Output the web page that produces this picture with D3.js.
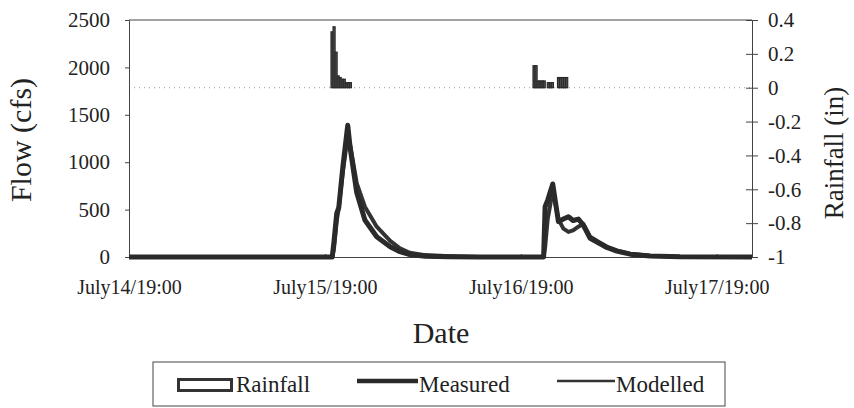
<!DOCTYPE html>
<html>
<head>
<meta charset="utf-8">
<script src="https://cdn.jsdelivr.net/npm/d3@7.9.0/dist/d3.min.js"></script>
<style>
  body { margin: 0; background: #fff; }
  svg text { font-family: 'Liberation Serif', 'Times New Roman', 'DejaVu Serif', serif !important; fill: #222; }
  .axis path, .axis line { stroke: #444; }
  .axis text { font-size: 21px; }
</style>
</head>
<body>
<svg id="chart"></svg>
<script>
// chart.js

// hours since July 14 19:00
const flowHours = [0, 24.9, 25.1, 25.45, 25.7, 26.2, 26.8, 27.1, 27.9, 28.9, 30.35, 32.0, 33.2, 34.4, 36.3, 39.3, 43.0,
  50.8, 50.98, 51.3, 51.92, 52.61, 53.22, 53.84, 54.41, 55.06, 55.64, 56.5, 57.72, 58.54, 59.77, 61.4, 63.85, 67.5, 76.33];

const measured = [0, 0, 150, 460, 520, 950, 1390, 1150, 680, 390, 214, 109, 56, 25, 8, 3, 0,
  0, 530, 600, 770, 373, 400, 425, 385, 400, 340, 197, 140, 100, 62, 30, 10, 2, 0];

const modelled = [0, 0, 80, 380, 520, 900, 1280, 1180, 780, 530, 320, 170, 92, 45, 20, 8, 0,
  0, 100, 400, 700, 400, 300, 265, 280, 320, 350, 215, 150, 110, 70, 35, 12, 3, 0];

// rainfall, 15 minute totals
const rainHours = [24.75, 25.0, 25.25, 25.5, 25.75, 26.0, 26.25, 26.5, 26.75, 27.0,
  49.5, 49.75, 50.0, 50.25, 50.5, 50.75, 51.25, 51.5, 51.75, 52.5, 52.75, 53.0, 53.25, 53.5];
const rainfall = [0.33, 0.36, 0.21, 0.07, 0.06, 0.05, 0.05, 0.03, 0.03, 0.03,
  0.13, 0.13, 0.04, 0.04, 0.04, 0.04, 0.03, 0.03, 0.03, 0.06, 0.06, 0.06, 0.06, 0.06];

const xTickHours = [0, 24, 48, 72];
const xTickLabels = ['July14/19:00', 'July15/19:00', 'July16/19:00', 'July17/19:00'];
const flowTicks = [0, 500, 1000, 1500, 2000, 2500];
const rainTicks = [-1, -0.8, -0.6, -0.4, -0.2, 0, 0.2, 0.4];
const rainTickLabels = ['-1', '-0.8', '-0.6', '-0.4', '-0.2', '0', '0.2', '0.4'];

const width = 854;
const height = 408;
const plotL = 129, plotR = 752, plotT = 20, plotB = 257;

const svg = d3.select('#chart').attr('width', width).attr('height', height);

const start = new Date(2000, 6, 14, 19, 0);
const toDate = h => new Date(start.getTime() + h * 3600 * 1000);

const x = d3.scaleTime().domain([start, toDate(76.33)]).range([plotL, plotR]);
const yFlow = d3.scaleLinear().domain([0, 2500]).range([plotB, plotT]);
const yRain = d3.scaleLinear().domain([-1, 0.4]).range([plotB, plotT]);

// dotted line at zero rainfall
svg.append('line')
  .attr('x1', plotL).attr('x2', plotR)
  .attr('y1', yRain(0)).attr('y2', yRain(0))
  .attr('stroke', '#999').attr('stroke-dasharray', '1,4');

// top frame line
svg.append('line')
  .attr('x1', plotL).attr('x2', plotR)
  .attr('y1', plotT).attr('y2', plotT)
  .attr('stroke', '#444');

// axes
svg.append('g').attr('class', 'axis')
  .attr('transform', `translate(0,${plotB})`)
  .call(d3.axisBottom(x)
    .tickValues(xTickHours.map(toDate))
    .tickFormat((d, i) => xTickLabels[i])
    .tickSize(-3).tickPadding(23))
  .call(g => g.selectAll('text').style('font-size', '20px'));

svg.append('g').attr('class', 'axis')
  .attr('transform', `translate(${plotL},0)`)
  .call(d3.axisLeft(yFlow).tickValues(flowTicks).tickSize(4).tickPadding(15).tickFormat(d3.format('d')));

svg.append('g').attr('class', 'axis')
  .attr('transform', `translate(${plotR},0)`)
  .call(d3.axisRight(yRain).tickValues(rainTicks).tickSize(6).tickPadding(10)
    .tickFormat((d, i) => rainTickLabels[i]))
  .call(g => g.selectAll('.tick line').attr('x1', -6));

svg.selectAll('.axis').attr('font-family', null);

// rainfall bars (hang from zero)
const barW = x(toDate(0.25)) - x(toDate(0));
svg.append('g')
  .selectAll('rect')
  .data(rainHours.map((h, i) => ({ h, v: rainfall[i] })))
  .join('rect')
  .attr('x', d => x(toDate(d.h)))
  .attr('width', barW)
  .attr('y', d => yRain(d.v))
  .attr('height', d => yRain(0) - yRain(d.v))
  .attr('fill', '#555')
  .attr('stroke', '#2a2a2a')
  .attr('stroke-width', 1.2);

// flow lines
const line = d3.line()
  .x(d => x(toDate(d[0])))
  .y(d => yFlow(d[1]));

svg.append('path')
  .datum(flowHours.map((h, i) => [h, modelled[i]]))
  .attr('d', line)
  .attr('fill', 'none')
  .attr('stroke', '#333')
  .attr('stroke-width', 4)
  .attr('stroke-linejoin', 'round');

svg.append('path')
  .datum(flowHours.map((h, i) => [h, measured[i]]))
  .attr('d', line)
  .attr('fill', 'none')
  .attr('stroke', '#2a2a2a')
  .attr('stroke-width', 5)
  .attr('stroke-linejoin', 'round');

// axis titles
svg.append('text')
  .attr('transform', 'translate(31,140) rotate(-90)')
  .attr('text-anchor', 'middle')
  .style('font-size', '30px')
  .text('Flow (cfs)');

svg.append('text')
  .attr('transform', 'translate(843,153) rotate(-90)')
  .attr('text-anchor', 'middle')
  .style('font-size', '27px')
  .text('Rainfall (in)');

svg.append('text')
  .attr('x', 441).attr('y', 343)
  .attr('text-anchor', 'middle')
  .style('font-size', '30px')
  .text('Date');

// legend
const legend = svg.append('g');
legend.append('rect')
  .attr('x', 153).attr('y', 362).attr('width', 572).attr('height', 44)
  .attr('fill', 'none').attr('stroke', '#444');

legend.append('rect')
  .attr('x', 178.5).attr('y', 379.5).attr('width', 53).attr('height', 11)
  .attr('fill', '#fff').attr('stroke', '#333').attr('stroke-width', 3);
legend.append('line')
  .attr('x1', 357).attr('x2', 418).attr('y1', 381).attr('y2', 381)
  .attr('stroke', '#2a2a2a').attr('stroke-width', 4.5);
legend.append('line')
  .attr('x1', 557).attr('x2', 615).attr('y1', 381).attr('y2', 381)
  .attr('stroke', '#333').attr('stroke-width', 2.5);

const legendItems = [['Rainfall', 236], ['Measured', 419], ['Modelled', 616]];
legend.selectAll('text.lbl')
  .data(legendItems)
  .join('text')
  .attr('class', 'lbl')
  .attr('x', d => d[1]).attr('y', 392)
  .style('font-size', '23px')
  .text(d => d[0]);
</script>
</body>
</html>
